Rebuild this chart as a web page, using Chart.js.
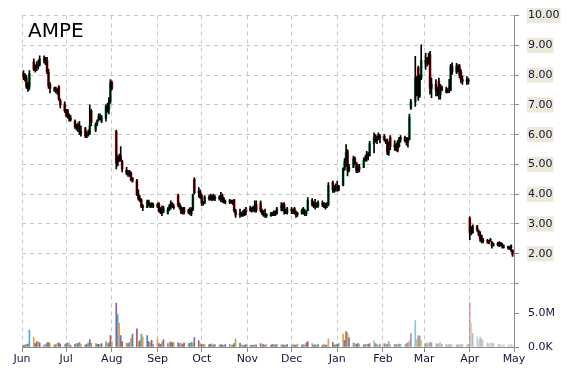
<!DOCTYPE html>
<html>
<head>
<meta charset="utf-8">
<script src="https://cdn.jsdelivr.net/npm/chart.js@4.4.0/dist/chart.umd.min.js"></script>
<style>
  body { margin: 0; background: #fff; }
  #wrap { position: relative; width: 570px; height: 370px; }
  #ticker { position: absolute; left: 28px; top: 20px; font-family: "DejaVu Sans", sans-serif; font-size: 20px; line-height: 20px; color: #000; }
</style>
</head>
<body>
<div id="wrap">
  <canvas id="stockChart" width="570" height="370"></canvas>
  <div id="ticker">AMPE</div>
</div>
<script>
// x values are days after Sun 1 Jun 2014, one candle per weekday
var firstDay = 1, lastDay = 333;
var monthLabels = ['Jun', 'Jul', 'Aug', 'Sep', 'Oct', 'Nov', 'Dec', 'Jan', 'Feb', 'Mar', 'Apr', 'May'];
var monthStarts = [0, 30, 61, 92, 122, 153, 183, 214, 245, 273, 304, 334];
var priceTicks = [1, 2, 3, 4, 5, 6, 7, 8, 9, 10];
var volumeTicks = [0, 5];

// one row per week (Mon..Fri)
var opens = [
  8.05, 7.95, 7.90, 7.65, 7.60,
  8.45, 8.20, 8.25, 8.30, 8.35,
  8.55, 8.50, 8.50, 8.10, 7.70,
  7.55, 7.50, 7.50, 7.60, 7.15,
  7.00, 6.80, 6.80, 6.60, 6.55,
  6.45, 6.25, 6.30, 6.15, 6.10,
  6.20, 5.95, 6.00, 6.05, 6.80,
  6.15, 6.35, 6.50, 6.60, 6.45,
  6.55, 6.95, 6.85, 7.10, 7.75,
  6.10, 5.05, 5.20, 5.30, 5.10,
  4.80, 4.70, 4.75, 4.70, 4.55,
  4.45, 4.00, 3.85, 3.80, 3.60,
  3.55, 3.75, 3.65, 3.70, 3.60,
  3.65, 3.65, 3.45, 3.45, 3.40,
  3.35, 3.50, 3.60, 3.70, 3.60,
  3.95, 3.65, 3.55, 3.40, 3.55,
  3.40, 3.45, 3.35, 3.50, 4.50,
  4.05, 4.10, 3.95, 3.70, 3.70,
  3.90, 3.95, 3.90, 3.95, 3.85,
  3.90, 3.85, 3.95, 3.85, 3.72,
  3.75, 3.78, 3.75, 3.80, 3.45,
  3.30, 3.35, 3.30, 3.30, 3.45,
  3.55, 3.45, 3.45, 3.55, 3.65,
  3.70, 3.45, 3.35, 3.30, 3.28,
  3.28, 3.35, 3.35, 3.40, 3.35,
  3.55, 3.60, 3.65, 3.40, 3.38,
  3.50, 3.45, 3.52, 3.38, 3.30,
  3.35, 3.35, 3.45, 3.35, 3.45,
  3.80, 3.65, 3.70, 3.70, 3.60,
  3.70, 3.65, 3.60, 3.62, 3.65,
  4.40, 4.15, 4.20, 4.25, 4.28,
  4.30, 4.85, 5.10, 5.45, 4.80,
  4.90, 5.20, 5.05, 4.80, 4.90,
  4.90, 5.15, 5.20, 5.35, 5.30,
  5.70, 5.90, 5.85, 6.00, 5.88,
  5.95, 5.82, 5.80, 5.40, 5.90,
  5.65, 5.60, 5.75, 5.60, 5.85,
  5.90, 5.80, 5.75, 5.85, 6.90,
  7.10, 7.35, 8.25, 7.30, 7.90,
  8.50, 8.40, 8.60, 8.70, 7.55,
  7.70, 7.50, 7.80, 7.35, 7.60,
  7.50, 7.45, 7.50, 7.50, 8.30,
  8.10, 8.30, 8.30, 8.10, 7.85,
  7.80, 7.85, 3.20, 2.90, 2.70,
  2.90, 2.75, 2.65, 2.60, 2.45,
  2.42, 2.40, 2.45, 2.40, 2.27,
  2.34, 2.30, 2.35, 2.30, 2.25,
  2.22, 2.20, 2.20, 2.12
];
var highs = [
  8.15, 8.05, 8.00, 7.75, 8.15,
  8.55, 8.35, 8.45, 8.50, 8.65,
  8.65, 8.60, 8.60, 8.20, 7.75,
  7.60, 7.60, 7.55, 7.65, 7.20,
  7.10, 6.85, 6.85, 6.70, 6.65,
  6.50, 6.35, 6.40, 6.45, 6.30,
  6.25, 6.10, 6.15, 7.00, 6.85,
  6.40, 6.50, 6.70, 6.70, 6.65,
  7.00, 7.05, 7.25, 7.85, 7.80,
  6.15, 5.30, 5.35, 5.60, 5.15,
  4.90, 4.80, 4.80, 4.75, 4.55,
  4.50, 4.15, 3.95, 3.85, 3.65,
  3.80, 3.80, 3.70, 3.72, 3.70,
  3.70, 3.72, 3.55, 3.60, 3.60,
  3.55, 3.65, 3.78, 3.72, 3.65,
  4.00, 3.70, 3.60, 3.55, 3.56,
  3.50, 3.55, 3.55, 4.00, 4.56,
  4.22, 4.15, 4.00, 3.75, 3.95,
  3.95, 4.00, 3.98, 4.00, 3.95,
  3.95, 4.06, 4.00, 3.89, 3.80,
  3.83, 3.80, 3.80, 3.83, 3.50,
  3.50, 3.40, 3.45, 3.50, 3.56,
  3.60, 3.55, 3.60, 3.78, 3.78,
  3.78, 3.50, 3.45, 3.50, 3.35,
  3.39, 3.40, 3.44, 3.44, 3.56,
  3.72, 3.70, 3.72, 3.50, 3.56,
  3.56, 3.50, 3.56, 3.44, 3.40,
  3.50, 3.56, 3.48, 3.44, 3.89,
  3.85, 3.75, 3.83, 3.72, 3.78,
  3.78, 3.72, 3.70, 3.72, 4.39,
  4.44, 4.30, 4.35, 4.44, 4.30,
  4.89, 5.20, 5.67, 5.50, 5.00,
  5.28, 5.25, 5.06, 5.00, 5.00,
  5.22, 5.30, 5.44, 5.40, 5.78,
  6.06, 6.00, 5.95, 6.06, 6.00,
  6.00, 5.85, 5.85, 5.75, 5.97,
  5.80, 5.70, 5.80, 5.91, 5.97,
  5.95, 5.90, 5.91, 6.69, 7.19,
  8.63, 7.95, 8.30, 8.00, 9.02,
  8.74, 8.60, 8.74, 8.80, 7.90,
  7.85, 7.60, 7.90, 7.69, 7.64,
  7.60, 7.55, 7.86, 8.36, 8.41,
  8.40, 8.35, 8.36, 8.19, 7.97,
  7.95, 7.90, 3.24, 2.91, 2.97,
  2.95, 2.80, 2.74, 2.63, 2.52,
  2.48, 2.45, 2.52, 2.41, 2.36,
  2.38, 2.41, 2.38, 2.36, 2.30,
  2.26, 2.24, 2.30, 2.13
];
var lows = [
  7.85, 7.80, 7.55, 7.45, 7.50,
  8.15, 8.10, 8.15, 8.20, 8.30,
  8.40, 8.35, 8.05, 7.55, 7.40,
  7.45, 7.40, 7.35, 7.15, 6.90,
  6.75, 6.60, 6.55, 6.45, 6.45,
  6.20, 6.15, 6.10, 6.00, 5.95,
  5.90, 5.90, 5.95, 6.00, 6.30,
  6.10, 6.30, 6.45, 6.50, 6.40,
  6.45, 6.75, 6.70, 7.05, 7.50,
  4.85, 4.95, 5.10, 5.10, 4.75,
  4.65, 4.60, 4.60, 4.45, 4.40,
  3.95, 3.80, 3.75, 3.55, 3.45,
  3.55, 3.60, 3.55, 3.56, 3.55,
  3.55, 3.40, 3.35, 3.28, 3.38,
  3.33, 3.45, 3.50, 3.55, 3.50,
  3.58, 3.50, 3.35, 3.33, 3.33,
  3.35, 3.30, 3.28, 3.45, 4.00,
  3.90, 3.85, 3.62, 3.62, 3.68,
  3.80, 3.80, 3.78, 3.80, 3.78,
  3.80, 3.75, 3.72, 3.70, 3.67,
  3.68, 3.70, 3.65, 3.40, 3.22,
  3.22, 3.25, 3.25, 3.28, 3.30,
  3.42, 3.40, 3.42, 3.40, 3.40,
  3.40, 3.30, 3.25, 3.22, 3.22,
  3.25, 3.28, 3.28, 3.28, 3.33,
  3.44, 3.45, 3.33, 3.35, 3.33,
  3.35, 3.35, 3.33, 3.22, 3.25,
  3.33, 3.33, 3.28, 3.28, 3.44,
  3.60, 3.55, 3.50, 3.56, 3.56,
  3.58, 3.55, 3.50, 3.55, 3.61,
  4.06, 4.06, 4.10, 4.10, 4.11,
  4.28, 4.80, 4.94, 4.61, 4.75,
  4.89, 5.00, 4.72, 4.72, 4.75,
  4.89, 5.10, 5.11, 5.15, 5.28,
  5.39, 5.75, 5.70, 5.83, 5.72,
  5.78, 5.70, 5.33, 5.30, 5.50,
  5.47, 5.45, 5.42, 5.58, 5.75,
  5.75, 5.65, 5.58, 5.82, 6.85,
  6.95, 7.30, 7.15, 7.25, 7.85,
  8.19, 8.30, 8.36, 7.36, 7.24,
  7.30, 7.30, 7.19, 7.19, 7.47,
  7.40, 7.40, 7.41, 7.47, 8.02,
  8.05, 8.10, 7.91, 7.74, 7.69,
  7.69, 7.70, 2.47, 2.63, 2.69,
  2.75, 2.60, 2.41, 2.36, 2.36,
  2.35, 2.33, 2.41, 2.19, 2.25,
  2.26, 2.24, 2.25, 2.19, 2.19,
  2.15, 2.14, 2.08, 1.91
];
var closes = [
  7.95, 7.90, 7.60, 7.55, 8.05,
  8.20, 8.25, 8.30, 8.35, 8.55,
  8.50, 8.45, 8.10, 7.65, 7.55,
  7.50, 7.50, 7.45, 7.20, 7.00,
  6.80, 6.65, 6.60, 6.55, 6.50,
  6.25, 6.30, 6.15, 6.10, 6.05,
  5.95, 6.00, 6.05, 6.30, 6.40,
  6.35, 6.45, 6.60, 6.55, 6.60,
  6.95, 6.85, 7.10, 7.75, 7.55,
  5.05, 5.20, 5.25, 5.15, 4.85,
  4.70, 4.75, 4.65, 4.50, 4.45,
  4.00, 3.85, 3.80, 3.60, 3.55,
  3.75, 3.65, 3.60, 3.60, 3.65,
  3.60, 3.45, 3.40, 3.35, 3.55,
  3.50, 3.60, 3.70, 3.58, 3.55,
  3.65, 3.55, 3.40, 3.50, 3.38,
  3.45, 3.35, 3.50, 3.95, 4.05,
  4.10, 3.90, 3.70, 3.68, 3.90,
  3.85, 3.85, 3.82, 3.85, 3.90,
  3.85, 3.95, 3.80, 3.72, 3.75,
  3.78, 3.72, 3.70, 3.45, 3.30,
  3.35, 3.30, 3.35, 3.45, 3.40,
  3.45, 3.50, 3.55, 3.60, 3.45,
  3.45, 3.35, 3.30, 3.28, 3.30,
  3.35, 3.32, 3.30, 3.32, 3.52,
  3.60, 3.50, 3.40, 3.45, 3.52,
  3.45, 3.40, 3.38, 3.30, 3.35,
  3.45, 3.52, 3.32, 3.40, 3.80,
  3.65, 3.70, 3.60, 3.60, 3.70,
  3.65, 3.60, 3.62, 3.65, 4.30,
  4.15, 4.20, 4.25, 4.20, 4.15,
  4.85, 5.10, 5.40, 4.80, 4.90,
  5.20, 5.05, 4.80, 4.90, 4.85,
  5.15, 5.20, 5.35, 5.30, 5.70,
  5.90, 5.85, 5.80, 5.88, 5.95,
  5.82, 5.75, 5.40, 5.65, 5.60,
  5.60, 5.50, 5.45, 5.85, 5.90,
  5.80, 5.75, 5.85, 6.60, 7.10,
  7.90, 7.85, 7.30, 7.90, 8.50,
  8.40, 8.45, 8.45, 7.55, 7.70,
  7.50, 7.45, 7.35, 7.55, 7.50,
  7.45, 7.50, 7.60, 8.30, 8.10,
  8.30, 8.20, 8.00, 7.85, 7.80,
  7.85, 7.80, 2.70, 2.68, 2.90,
  2.80, 2.65, 2.50, 2.45, 2.42,
  2.40, 2.38, 2.47, 2.25, 2.34,
  2.30, 2.35, 2.28, 2.25, 2.22,
  2.20, 2.18, 2.28, 1.98
];
// volume in millions of shares
var volumes = [
  0.25, 0.30, 0.40, 0.45, 2.50,
  1.40, 0.50, 0.80, 0.75, 0.60,
  0.30, 0.40, 0.60, 0.65, 0.50,
  0.30, 0.40, 0.55, 0.60, 0.45,
  0.35, 0.50, 0.60, 0.55, 0.30,
  0.40, 0.55, 0.50, 0.70, 0.45,
  0.30, 0.45, 0.60, 1.10, 0.55,
  0.50, 0.45, 0.40, 0.35, 0.50,
  0.80, 0.50, 0.60, 1.70, 0.80,
  6.50, 4.80, 3.50, 1.70, 0.80,
  0.60, 0.50, 0.70, 1.30, 1.90,
  2.70, 0.80, 0.90, 1.90, 1.50,
  1.70, 0.80, 0.60, 1.00, 0.40,
  1.20, 0.50, 0.40, 0.70, 1.10,
  0.50, 0.60, 0.75, 0.60, 0.70,
  0.60, 0.50, 0.55, 0.45, 0.60,
  0.50, 0.55, 0.70, 0.60, 1.40,
  0.90, 0.50, 0.40, 0.35, 0.40,
  0.35, 0.45, 0.45, 0.30, 0.40,
  0.30, 0.35, 0.30, 0.30, 0.35,
  0.35, 0.30, 0.30, 0.50, 1.20,
  0.55, 0.30, 0.30, 0.25, 0.35,
  0.25, 0.30, 0.25, 0.35, 0.30,
  0.50, 0.40, 0.35, 0.30, 0.35,
  0.30, 0.35, 0.40, 0.30, 0.40,
  0.35, 0.30, 0.30, 0.30, 0.35,
  0.30, 0.35, 0.30, 0.30, 0.45,
  0.30, 0.35, 0.30, 0.60, 0.80,
  0.50, 0.30, 0.35, 0.30, 0.35,
  0.30, 0.35, 0.30, 0.30, 1.20,
  0.70, 0.30, 0.35, 0.40, 0.50,
  1.90, 1.00, 2.30, 2.10, 1.40,
  0.60, 0.50, 0.45, 0.50, 0.40,
  0.35, 0.40, 0.45, 0.40, 0.50,
  0.90, 0.50, 0.40, 0.25, 0.45,
  0.50, 0.40, 0.45, 0.80, 0.40,
  0.40, 0.35, 0.40, 0.45, 0.40,
  0.35, 0.50, 0.60, 0.90, 2.00,
  3.90, 1.10, 1.70, 1.60, 1.00,
  0.50, 0.60, 0.50, 0.70, 0.60,
  0.50, 0.45, 0.50, 0.70, 0.40,
  0.35, 0.30, 0.35, 0.40, 0.35,
  0.30, 0.35, 0.30, 0.35, 0.40,
  0.35, 0.40, 6.60, 3.50, 2.00,
  1.50, 1.00, 1.50, 1.20, 1.00,
  0.60, 0.50, 0.55, 0.60, 0.50,
  0.35, 0.40, 0.35, 0.30, 0.35,
  0.30, 0.35, 0.40, 0.30
];

var tradingDays = [];
for (var d = firstDay; d <= lastDay; d++) {
  var wd = d % 7; // 0 = Sunday, 6 = Saturday
  if (wd !== 0 && wd !== 6) tradingDays.push(d);
}

var textColor = '#14143c';
var axisColor = '#8c8c8c';
var gridColor = '#c8c8c8';
var tickFont = { family: 'DejaVu Sans', size: 11 };

var wicks = tradingDays.map(function(d, i) { return { x: d, y: [lows[i], highs[i]] }; });
var bodies = tradingDays.map(function(d, i) { return { x: d, y: [opens[i], closes[i]] }; });
var bodyColors = closes.map(function(c, i) { return c >= opens[i] ? '#00a651' : '#ff0000'; });
var vols = tradingDays.map(function(d, i) { return { x: d, y: volumes[i] }; });

// volume bars cycle through a palette and fade out over the last months
var palette = [[79, 129, 189], [192, 80, 77], [155, 187, 89], [128, 100, 162], [75, 172, 198], [247, 150, 70]];
var fadeFrom = 214;
var volColors = tradingDays.map(function(d, i) {
  var c = palette[i % palette.length];
  var a = d < fadeFrom ? 1 : 1 - 0.7 * (d - fadeFrom) / (334 - fadeFrom);
  return 'rgba(' + c.join(',') + ',' + a.toFixed(2) + ')';
});

var ctx = document.getElementById('stockChart').getContext('2d');
var stockChart = new Chart(ctx, {
  type: 'bar',
  data: {
    datasets: [
      {
        // thin black high-low line drawn over the coloured body
        data: wicks,
        backgroundColor: '#000',
        barThickness: 1,
        grouped: false,
        yAxisID: 'y',
        order: 1
      },
      {
        data: bodies,
        backgroundColor: bodyColors,
        barThickness: 2,
        minBarLength: 1,
        grouped: false,
        yAxisID: 'y',
        order: 2
      },
      {
        data: vols,
        backgroundColor: volColors,
        barThickness: 1,
        grouped: false,
        yAxisID: 'vol',
        order: 3
      }
    ]
  },
  options: {
    responsive: false,
    animation: false,
    layout: { padding: { left: 22, top: 13, right: 0, bottom: 0 } },
    plugins: {
      legend: { display: false },
      tooltip: { enabled: false }
    },
    scales: {
      x: {
        type: 'linear',
        min: 0,
        max: 334,
        offset: false,
        afterBuildTicks: function(s) { s.ticks = monthStarts.map(function(v) { return { value: v }; }); },
        afterFit: function(s) { s.height = 23; },
        grid: { color: gridColor, offset: false, tickLength: 5, tickColor: axisColor, tickBorderDash: [] },
        border: { color: axisColor, dash: [4, 4] },
        ticks: {
          autoSkip: false,
          maxRotation: 0,
          padding: 1,
          color: textColor,
          font: tickFont,
          callback: function(v, i) { return monthLabels[i]; }
        }
      },
      y: {
        position: 'right',
        stack: 'pv',
        stackWeight: 270,
        min: 1,
        max: 10,
        afterBuildTicks: function(s) { s.ticks = priceTicks.map(function(v) { return { value: v }; }); },
        afterFit: function(s) { s.width = 56; },
        grid: { color: gridColor, tickLength: 5, tickColor: axisColor, tickBorderDash: [] },
        border: { color: axisColor, dash: [4, 4] },
        ticks: {
          autoSkip: false,
          padding: 9,
          color: textColor,
          font: tickFont,
          showLabelBackdrop: true,
          backdropColor: function(c) { return c.tick && c.tick.value < 2 ? 'rgba(0,0,0,0)' : '#ece9d8'; },
          backdropPadding: { x: 1, y: 1 },
          callback: function(v) { return v >= 2 ? v.toFixed(2) : ''; }
        }
      },
      vol: {
        position: 'right',
        stack: 'pv',
        stackWeight: 64,
        min: 0,
        max: 9.41,
        afterBuildTicks: function(s) { s.ticks = volumeTicks.map(function(v) { return { value: v }; }); },
        afterFit: function(s) { s.width = 56; },
        grid: { drawOnChartArea: false, tickLength: 5, tickColor: axisColor },
        border: { color: axisColor },
        ticks: {
          autoSkip: false,
          padding: 9,
          color: textColor,
          font: tickFont,
          callback: function(v) { return v === 0 ? '0.0K' : v.toFixed(1) + 'M'; }
        }
      }
    }
  }
});
</script>
</body>
</html>
